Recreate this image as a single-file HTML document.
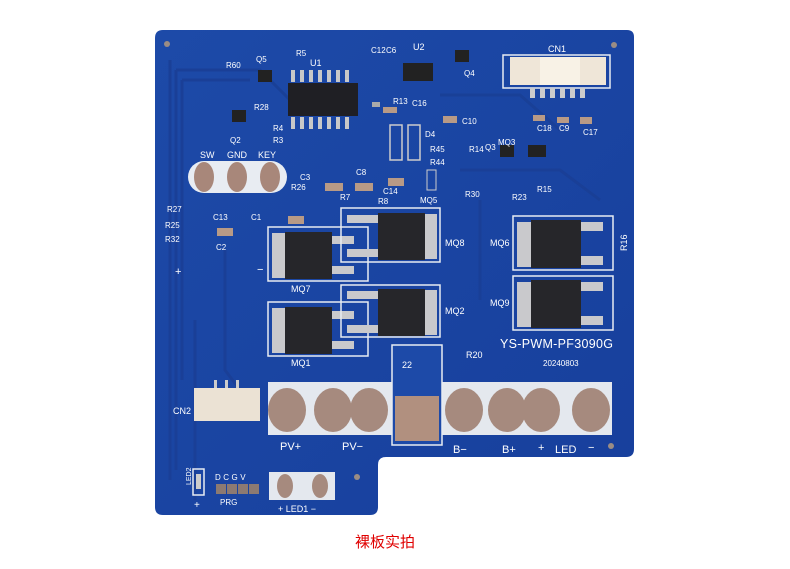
<!DOCTYPE html>
<html><head><meta charset="utf-8"><style>
html,body{margin:0;padding:0;background:#fff;width:790px;height:569px;overflow:hidden}
svg{display:block}
text{font-family:"Liberation Sans",sans-serif;fill:#fff}
</style></head><body>
<svg width="790" height="569" viewBox="0 0 790 569">
<defs>
<linearGradient id="bd" x1="0" y1="0" x2="1" y2="1"><stop offset="0" stop-color="#1d4aa8"/><stop offset="1" stop-color="#173f9c"/></linearGradient>
</defs>
<!-- board -->
<path d="M163,30 H627 Q634,30 634,37 V449 Q634,457 626,457 H386 Q378,457 378,465 V507 Q378,515 370,515 H163 Q155,515 155,507 V38 Q155,30 163,30 Z" fill="url(#bd)"/>
<!-- traces -->
<g stroke="#1a3f96" stroke-width="3" fill="none" opacity="0.9">
<path d="M170,60 V480"/><path d="M176,70 V470"/><path d="M182,80 V380"/>
<path d="M176,70 H260 L290,100"/><path d="M182,80 H250"/>
<path d="M195,320 V500"/><path d="M225,250 V370 L240,390"/>
<path d="M440,95 H520 L560,130"/><path d="M460,170 H560 L600,200"/>
<path d="M480,200 V300"/>
</g>
<!-- mounting holes -->
<circle cx="167" cy="44" r="3" fill="#9a8c84"/><circle cx="614" cy="45" r="3" fill="#9a8c84"/>
<circle cx="357" cy="477" r="3" fill="#9a8c84"/><circle cx="611" cy="446" r="3" fill="#9a8c84"/>

<!-- SW GND KEY -->
<text x="200" y="158" font-size="9">SW</text><text x="227" y="158" font-size="9">GND</text><text x="258" y="158" font-size="9">KEY</text>
<rect x="188" y="161" width="99" height="32" rx="16" fill="#e8ecf2"/>
<ellipse cx="204" cy="177" rx="10" ry="15" fill="#a8877a"/>
<ellipse cx="237" cy="177" rx="10" ry="15" fill="#a8877a"/>
<ellipse cx="270" cy="177" rx="10" ry="15" fill="#a8877a"/>

<!-- U1 -->
<rect x="288" y="83" width="70" height="33" fill="#1f1f24"/>
<g fill="#c8c8c8">
<rect x="291" y="70" width="4" height="12"/><rect x="300" y="70" width="4" height="12"/><rect x="309" y="70" width="4" height="12"/><rect x="318" y="70" width="4" height="12"/><rect x="327" y="70" width="4" height="12"/><rect x="336" y="70" width="4" height="12"/><rect x="345" y="70" width="4" height="12"/>
<rect x="291" y="117" width="4" height="12"/><rect x="300" y="117" width="4" height="12"/><rect x="309" y="117" width="4" height="12"/><rect x="318" y="117" width="4" height="12"/><rect x="327" y="117" width="4" height="12"/><rect x="336" y="117" width="4" height="12"/><rect x="345" y="117" width="4" height="12"/>
</g>
<text x="310" y="66" font-size="9">U1</text><text x="296" y="56" font-size="8">R5</text>
<!-- U2 -->
<rect x="403" y="63" width="30" height="18" fill="#222"/>
<text x="413" y="50" font-size="9">U2</text>
<rect x="372" y="102" width="8" height="5" fill="#aaa"/>
<text x="371" y="53" font-size="8">C12</text><text x="386" y="53" font-size="8">C6</text>
<!-- CN1 -->
<rect x="503" y="55" width="107" height="33" fill="none" stroke="#e8ecf2" stroke-width="1.5"/>
<rect x="510" y="57" width="96" height="28" fill="#efe6d8"/>
<rect x="540" y="57" width="40" height="28" fill="#f8f2e6"/>
<g fill="#ccc"><rect x="530" y="88" width="5" height="10"/><rect x="540" y="88" width="5" height="10"/><rect x="550" y="88" width="5" height="10"/><rect x="560" y="88" width="5" height="10"/><rect x="570" y="88" width="5" height="10"/><rect x="580" y="88" width="5" height="10"/></g>
<text x="548" y="52" font-size="9">CN1</text>
<!-- small parts -->
<g fill="#222"><rect x="258" y="70" width="14" height="12"/><rect x="232" y="110" width="14" height="12"/><rect x="455" y="50" width="14" height="12"/><rect x="500" y="145" width="14" height="12"/><rect x="528" y="145" width="18" height="12"/></g>
<g fill="#b89a86"><rect x="383" y="107" width="14" height="6"/><rect x="443" y="116" width="14" height="7"/><rect x="533" y="115" width="12" height="6"/><rect x="557" y="117" width="12" height="6"/><rect x="580" y="117" width="12" height="7"/><rect x="325" y="183" width="18" height="8"/><rect x="355" y="183" width="18" height="8"/><rect x="388" y="178" width="16" height="8"/><rect x="288" y="216" width="16" height="8"/><rect x="217" y="228" width="16" height="8"/></g>
<rect x="390" y="125" width="12" height="35" fill="none" stroke="#ccc" stroke-width="1.5"/><rect x="408" y="125" width="12" height="35" fill="none" stroke="#ccc" stroke-width="1.5"/>
<rect x="427" y="170" width="9" height="20" fill="none" stroke="#ccc"/>
<g font-size="8">
<text x="226" y="68">R60</text><text x="256" y="62">Q5</text><text x="254" y="110">R28</text><text x="273" y="131">R4</text><text x="273" y="143">R3</text><text x="230" y="143">Q2</text>
<text x="393" y="104">R13</text><text x="412" y="106">C16</text><text x="462" y="124">C10</text><text x="425" y="137">D4</text>
<text x="430" y="152">R45</text><text x="430" y="165">R44</text><text x="469" y="152">R14</text><text x="498" y="145">MQ3</text><text x="485" y="150">Q3</text>
<text x="537" y="131">C18</text><text x="559" y="131">C9</text><text x="583" y="135">C17</text><text x="464" y="76">Q4</text>
<text x="465" y="197">R30</text><text x="512" y="200">R23</text><text x="537" y="192">R15</text><text x="420" y="203">MQ5</text>
<text x="300" y="180">C3</text><text x="291" y="190">R26</text><text x="340" y="200">R7</text><text x="378" y="204">R8</text><text x="356" y="175">C8</text><text x="383" y="194">C14</text>
<text x="167" y="212">R27</text><text x="165" y="228">R25</text><text x="165" y="242">R32</text><text x="213" y="220">C13</text><text x="251" y="220">C1</text><text x="216" y="250">C2</text>
<text x="483" y="378" font-size="0"></text>
</g>
<text x="175" y="275" font-size="11">+</text><text x="257" y="273" font-size="11">−</text>

<!-- MOSFET helper shapes -->
<g>
<!-- MQ7 -->
<rect x="268" y="227" width="100" height="54" fill="none" stroke="#e8ecf2" stroke-width="1.5"/>
<rect x="272" y="233" width="13" height="45" fill="#c9c9cc"/><rect x="285" y="232" width="47" height="47" fill="#26262a"/>
<rect x="332" y="236" width="22" height="8" fill="#c9c9cc"/><rect x="332" y="266" width="22" height="8" fill="#c9c9cc"/>
<!-- MQ1 -->
<rect x="268" y="302" width="100" height="54" fill="none" stroke="#e8ecf2" stroke-width="1.5"/>
<rect x="272" y="308" width="13" height="45" fill="#c9c9cc"/><rect x="285" y="307" width="47" height="47" fill="#26262a"/>
<rect x="332" y="311" width="22" height="8" fill="#c9c9cc"/><rect x="332" y="341" width="22" height="8" fill="#c9c9cc"/>
<!-- MQ8 -->
<rect x="341" y="208" width="99" height="54" fill="none" stroke="#e8ecf2" stroke-width="1.5"/>
<rect x="425" y="214" width="12" height="45" fill="#c9c9cc"/><rect x="378" y="213" width="47" height="47" fill="#26262a"/>
<rect x="347" y="215" width="31" height="8" fill="#c9c9cc"/><rect x="347" y="249" width="31" height="8" fill="#c9c9cc"/>
<!-- MQ2 -->
<rect x="341" y="285" width="99" height="52" fill="none" stroke="#e8ecf2" stroke-width="1.5"/>
<rect x="425" y="290" width="12" height="45" fill="#c9c9cc"/><rect x="378" y="289" width="47" height="47" fill="#26262a"/>
<rect x="347" y="291" width="31" height="8" fill="#c9c9cc"/><rect x="347" y="325" width="31" height="8" fill="#c9c9cc"/>
<!-- MQ6 -->
<rect x="513" y="216" width="100" height="54" fill="none" stroke="#e8ecf2" stroke-width="1.5"/>
<rect x="517" y="222" width="14" height="45" fill="#c9c9cc"/><rect x="531" y="220" width="50" height="48" fill="#26262a"/>
<rect x="581" y="222" width="22" height="9" fill="#c9c9cc"/><rect x="581" y="256" width="22" height="9" fill="#c9c9cc"/>
<!-- MQ9 -->
<rect x="513" y="276" width="100" height="54" fill="none" stroke="#e8ecf2" stroke-width="1.5"/>
<rect x="517" y="282" width="14" height="45" fill="#c9c9cc"/><rect x="531" y="280" width="50" height="48" fill="#26262a"/>
<rect x="581" y="282" width="22" height="9" fill="#c9c9cc"/><rect x="581" y="316" width="22" height="9" fill="#c9c9cc"/>
</g>
<g font-size="9">
<text x="291" y="292">MQ7</text><text x="291" y="366">MQ1</text><text x="445" y="246">MQ8</text><text x="445" y="314">MQ2</text>
<text x="490" y="246">MQ6</text><text x="490" y="306">MQ9</text><text x="616" y="250" transform="rotate(-90 622 245)">R16</text>
<text x="466" y="358">R20</text>
</g>
<text x="500" y="348" font-size="12.5" letter-spacing="0.3">YS-PWM-PF3090G</text>
<text x="543" y="366" font-size="8">20240803</text>

<!-- terminal strip -->
<rect x="268" y="382" width="344" height="53" fill="#e4e8ee"/>
<rect x="392" y="345" width="50" height="100" fill="#1d4aa8" stroke="#e8ecf2" stroke-width="1.5"/>
<rect x="395" y="396" width="44" height="45" fill="#b1907f"/>
<text x="402" y="368" font-size="9">22</text>
<g fill="#a68a7e">
<ellipse cx="287" cy="410" rx="19" ry="22"/>
<ellipse cx="333" cy="410" rx="19" ry="22"/>
<ellipse cx="369" cy="410" rx="19" ry="22"/>
<ellipse cx="464" cy="410" rx="19" ry="22"/>
<ellipse cx="507" cy="410" rx="19" ry="22"/>
<ellipse cx="541" cy="410" rx="19" ry="22"/>
<ellipse cx="591" cy="410" rx="19" ry="22"/>
</g>
<g font-size="11"><text x="280" y="450">PV+</text><text x="342" y="450">PV−</text><text x="453" y="453">B−</text><text x="502" y="453">B+</text><text x="538" y="451">+</text><text x="555" y="453">LED</text><text x="588" y="451">−</text></g>

<!-- CN2 -->
<rect x="194" y="388" width="66" height="33" fill="#ebe2d4"/>
<rect x="214" y="380" width="3" height="8" fill="#ccc"/><rect x="225" y="380" width="3" height="8" fill="#ccc"/><rect x="236" y="380" width="3" height="8" fill="#ccc"/>
<text x="173" y="414" font-size="9">CN2</text>

<!-- bottom left -->
<rect x="193" y="469" width="11" height="26" fill="none" stroke="#e8ecf2" stroke-width="1.5"/>
<rect x="196" y="474" width="5" height="15" fill="#ccc"/>
<text x="184" y="492" font-size="7" transform="rotate(-90 184 485)">LED2</text>
<text x="194" y="508" font-size="10">+</text>
<text x="215" y="480" font-size="8" letter-spacing="2.5">DCGV</text>
<g fill="#8c7a72"><rect x="216" y="484" width="10" height="10"/><rect x="227" y="484" width="10" height="10"/><rect x="238" y="484" width="10" height="10"/><rect x="249" y="484" width="10" height="10"/></g>
<text x="220" y="505" font-size="8">PRG</text>
<rect x="269" y="472" width="66" height="28" fill="#e4e8ee"/>
<ellipse cx="285" cy="486" rx="8" ry="12" fill="#a68a7e"/><ellipse cx="320" cy="486" rx="8" ry="12" fill="#a68a7e"/>
<text x="278" y="512" font-size="9">+ LED1 −</text>

<text x="355" y="547" font-size="15" style="fill:#e00000;font-family:'Liberation Sans','Noto Sans CJK SC',sans-serif">裸板实拍</text>
</svg>
</body></html>
